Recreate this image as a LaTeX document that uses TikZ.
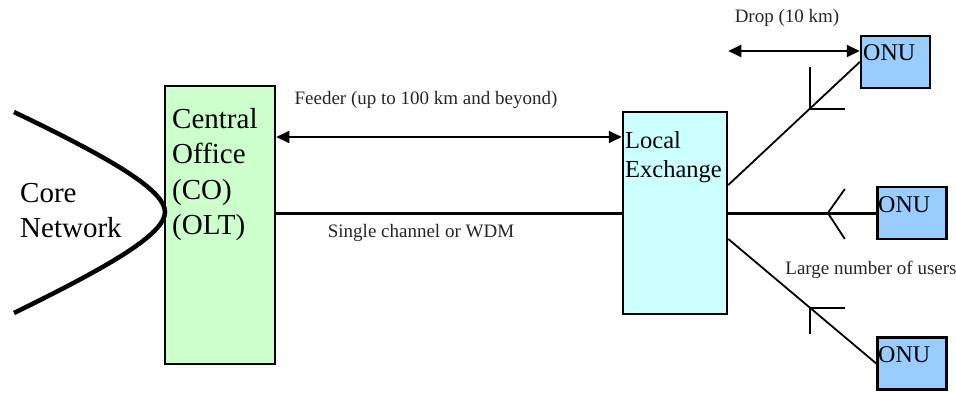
\documentclass[tikz,border=0pt]{standalone}
\usepackage{fontspec}
\IfFontExistsTF{LiberationSerif-Regular.ttf}
  {\setmainfont{LiberationSerif-Regular.ttf}}
  {\setmainfont{Liberation Serif}}
\usetikzlibrary{arrows.meta,calc}
\definecolor{cogreen}{HTML}{CCFFCC}
\definecolor{lecyan}{HTML}{CCFFFF}
\definecolor{onublue}{HTML}{99CCFF}
\begin{document}
\begin{tikzpicture}[x=1pt,y=-1pt,
 box/.style={draw=black, line width=2.5pt, inner sep=0pt},
 onubox/.style={box, fill=onublue, minimum width=69pt, minimum height=52pt},
 thinline/.style={line width=1.8pt},
 thickline/.style={line width=3pt},
 dbl/.style={line width=1.8pt, {Triangle[length=13pt,width=12pt]}-{Triangle[length=13pt,width=12pt]}},
 big/.style={font=\rmfamily\fontsize{29}{35.5}\selectfont, align=left, inner sep=0pt, anchor=north west},
 mid/.style={font=\rmfamily\fontsize{24.5}{29}\selectfont, align=left, inner sep=0pt, anchor=north west},
 onut/.style={font=\rmfamily\fontsize{24}{28}\selectfont, inner sep=0pt, anchor=base west},
 lab/.style={font=\rmfamily\fontsize{19}{22}\selectfont, inner sep=0pt, text=black!85},
]
\useasboundingbox (0,0) rectangle (956,393);
% boxes
\node[box, fill=cogreen, minimum width=110pt, minimum height=278pt] (co) at (220,225) {};
\node[box, fill=lecyan, minimum width=104pt, minimum height=202pt] (le) at (675,213) {};
\node[onubox] (onu1) at (895.5,62) {};
\node[onubox] (onu2) at (912,213) {};
\node[onubox] (onu3) at (912,363.5) {};
% core network curve
\draw[line width=4.5pt] (14,112) .. controls (110,158) and (165,190) .. (165,212)
      .. controls (165,234) and (110,266) .. (14,313);
% texts
\node[big] (core) at (20,183) {Core\\Network};
\node[big] (cotext) at (172,108) {Central\\Office\\(CO)\\(OLT)};
\node[mid] (letext) at (625,131) {Local\\Exchange};
\node[onut] (o1t) at (863,61) {ONU};
\node[onut] (o2t) at (878,212) {ONU};
\node[onut] (o3t) at (878,362) {ONU};
\node[lab] (feeder) at (426,100) {Feeder (up to 100 km and beyond)};
\node[lab] (single) at (421,233) {Single channel or WDM};
\node[lab] (drop) at (787,18) {Drop (10 km)};
\node[lab] (users) at (871,270) {Large number of users};
% connectors
\coordinate (fy) at (0,137);
\coordinate (dy) at (0,51);
\draw[dbl] (co.east |- fy) -- (le.west |- fy);
\draw[thickline] (co.east |- le.west) -- (le.west);
\draw[dbl] (le.east |- dy) -- (onu1.west |- dy);
\coordinate (a1) at (le.east |- 0,185);
\coordinate (a3) at (le.east |- 0,239);
\draw[thinline] (a1) -- (onu1.west);
\draw[thickline] (le.east) -- (onu2.west);
\draw[thinline] (a3) -- (onu3.west);
% splitters
\coordinate (t1) at ($(a1)!0.619!(onu1.west)$);
\coordinate (t2) at ($(le.east)!0.673!(onu2.west)$);
\coordinate (t3) at ($(a3)!0.553!(onu3.west)$);
\draw[thinline] (t1) ++(0,-42) -- (t1) -- ++(35,0);
\draw[thinline] ($(t2)+(17,-24)$) -- (t2) -- ($(t2)+(17,26)$);
\draw[thinline] (t3) ++(0,26) -- (t3) -- ++(35,0);
\end{tikzpicture}
\end{document}
